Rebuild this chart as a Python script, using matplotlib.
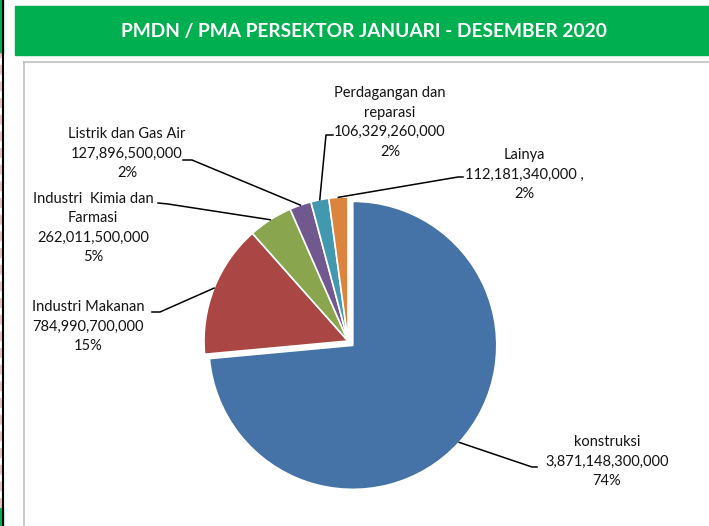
import numpy as np
import matplotlib.pyplot as plt
from matplotlib.lines import Line2D
from matplotlib.patches import Rectangle

W, H = 709, 526

# investment per sector, Jan - Dec 2020 (Rp)
sectors = ["konstruksi", "Industri Makanan", "Industri  Kimia dan\nFarmasi",
           "Listrik dan Gas Air", "Perdagangan dan\nreparasi", "Lainya"]
investment = [3871148300000, 784990700000, 262011500000,
              127896500000, 106329260000, 112181340000]
value_suffix = ["", "", "", "", "", " ,"]
colors = ["#4572A7", "#AA4643", "#89A54E", "#71588F", "#4198AF", "#DB843D"]

title = "PMDN / PMA PERSEKTOR JANUARI - DESEMBER 2020"

# label block placement (centre x, first line y) and leader elbows, in pixels from top-left
label_xy = [(607, 442), (88, 307), (93, 199), (127, 134), (390, 93), (524, 155)]
elbows = [((532, 467), (537, 467)), ((160, 312), (152, 312)), ((168, 204), (158, 203)),
          ((192, 160), (183, 160)), ((326, 135), (333, 135)), ((458, 177), (463, 177))]
line_pitch = 19.5
font = "Lato"


def px(x, y):
    return x / W, 1 - y / H


fig = plt.figure(figsize=(W / 100, H / 100), dpi=100)
fig.patch.set_facecolor("white")

# left edge strip
fig.patches.append(Rectangle(px(0, 53), 3 / W, 53 / H, transform=fig.transFigure,
                             color="#00B050", zorder=0))
fig.patches.append(Rectangle(px(0, 526), 3 / W, 18 / H, transform=fig.transFigure,
                             color="#00B050", zorder=0))
fig.lines.append(Line2D([0.6 / W] * 2, [px(0, 508)[1], px(0, 53)[1]], transform=fig.transFigure,
                        color="#E6B8B7", lw=1.2, ls=(0, (6, 4))))
fig.lines.append(Line2D([2.8 / W] * 2, [0, 1], transform=fig.transFigure, color="black", lw=1.5))

# header bar
fig.patches.append(Rectangle(px(15, 55), (W - 15) / W, 49 / H, transform=fig.transFigure,
                             color="#00B050", zorder=0))
fig.text(*px(364, 31), title, color="white", fontsize=13.8, fontweight="bold",
         family=font, ha="center", va="center")

# chart area frame
fig.lines.append(Line2D([24 / W, 1], [px(0, 62)[1]] * 2, transform=fig.transFigure,
                        color="#BFBFBF", lw=1.2))
fig.lines.append(Line2D([24 / W] * 2, [0, px(0, 62)[1]], transform=fig.transFigure,
                        color="#BFBFBF", lw=1.2))

# pie axes: square box, 1 data unit = r_px pixels
r_px = 144
cx, cy = 348, 341
side = 2 * 1.25 * r_px
ax = fig.add_axes([(cx - side / 2) / W, (H - cy - side / 2) / H, side / W, side / H])
explode = [0.045, 0, 0, 0, 0, 0]
wedges, _ = ax.pie(investment, colors=colors, startangle=90, counterclock=False,
                   explode=explode, wedgeprops=dict(edgecolor="white", linewidth=1.2))
ax.set_xlim(-1.25, 1.25)
ax.set_ylim(-1.25, 1.25)
ax.set_aspect("auto")
ax.axis("off")

total = sum(investment)
to_fig = fig.transFigure.inverted()
for w, name, val, suf, (lx, ly), (elb, end) in zip(wedges, sectors, investment, value_suffix,
                                                   label_xy, elbows):
    pct = round(val / total * 100)
    lines = name.split("\n") + [f"{val:,}{suf}", f"{pct}%"]
    for i, t in enumerate(lines):
        fig.text(*px(lx, ly + i * line_pitch), t, fontsize=10.5, family=font,
                 color="#141414", ha="center", va="center")
    mid = np.deg2rad((w.theta1 + w.theta2) / 2)
    x0 = w.center[0] + w.r * np.cos(mid)
    y0 = w.center[1] + w.r * np.sin(mid)
    fx, fy = to_fig.transform(ax.transData.transform((x0, y0)))
    ex, ey = px(*elb)
    tx, ty = px(*end)
    fig.lines.append(Line2D([fx, ex, tx], [fy, ey, ty], transform=fig.transFigure,
                            color="black", lw=1.1))

fig.savefig("out.png", dpi=100)
